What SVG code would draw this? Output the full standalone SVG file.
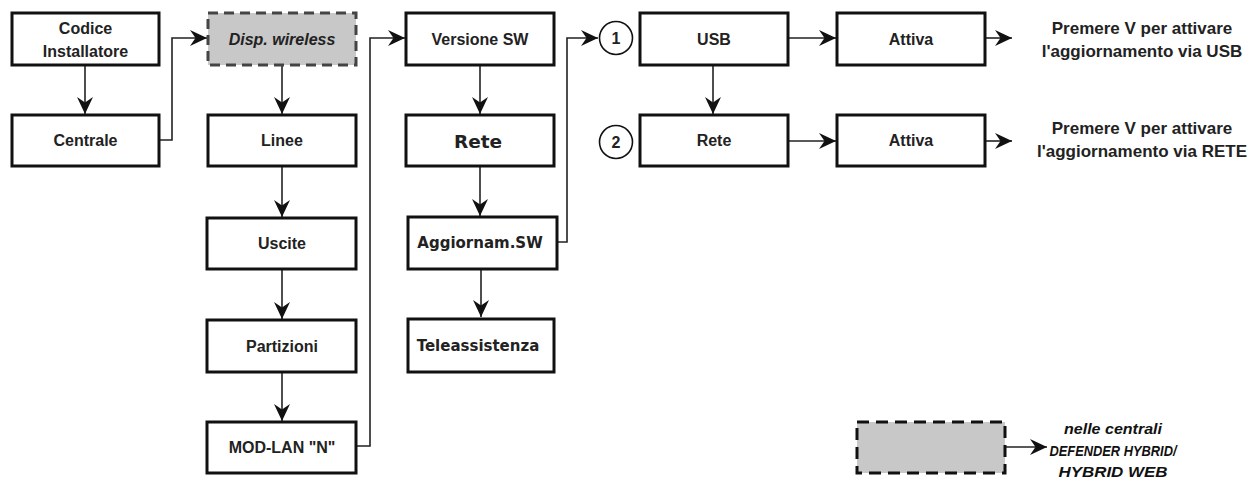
<svg xmlns="http://www.w3.org/2000/svg" width="1252" height="480" viewBox="0 0 1252 480">
<defs>
<marker id="ah" markerUnits="userSpaceOnUse" markerWidth="18" markerHeight="16" refX="17" refY="8" orient="auto">
<path d="M0,0 L17,8 L0,16 L5.5,8 Z" fill="#111"/>
</marker>
<style>
.box{fill:#fff;stroke:#111;stroke-width:3}
.dash{fill:#c8c8c8;stroke:#444;stroke-width:3;stroke-dasharray:10 6}
.ldash{fill:#c8c8c8;stroke:#111;stroke-width:3;stroke-dasharray:12 7}
.t{font-family:"Liberation Sans",Arial,sans-serif;font-weight:bold;font-size:16px;fill:#222;text-anchor:middle}
.m{font-family:"Liberation Sans",Arial,sans-serif;font-weight:bold;font-size:17px;fill:#222;text-anchor:middle}
.v{font-family:"DejaVu Sans",Verdana,sans-serif;font-weight:bold;fill:#222;text-anchor:middle}
.c{fill:none;stroke:#222;stroke-width:1.6;marker-end:url(#ah)}
.circ{fill:#fff;stroke:#111;stroke-width:1.6}
.it{font-family:"Liberation Sans",Arial,sans-serif;font-weight:bold;font-style:italic;font-size:15px;fill:#111;text-anchor:middle}
</style>
</defs>
<rect width="1252" height="480" fill="#fff"/>
<g id="connectors">
<path class="c" d="M85,65 V114"/>
<path class="c" d="M159,140 H172 V38 H207"/>
<path class="c" d="M282,65 V114"/>
<path class="c" d="M282,166 V217"/>
<path class="c" d="M282,269 V319"/>
<path class="c" d="M282,372 V421"/>
<path class="c" d="M357,446 H370 V38 H405"/>
<path class="c" d="M480,65 V114"/>
<path class="c" d="M480,166 V216"/>
<path class="c" d="M481,269 V317"/>
<path class="c" d="M557,242 H567 V38 H598"/>
<path class="c" d="M788,38 H836"/>
<path class="c" d="M713,65 V114"/>
<path class="c" d="M788,141 H836"/>
<path class="c" d="M985,38 H1012"/>
<path class="c" d="M985,141 H1012"/>
<path class="c" d="M1005,447 H1047"/>
</g>
<g id="codice"><rect class="box" x="12" y="13" width="147" height="52"/><text class="t" x="85.5" y="34">Codice</text><text class="t" x="85.5" y="57">Installatore</text></g>
<g id="centrale"><rect class="box" x="12" y="115" width="147" height="51"/><text class="t" x="85.5" y="146">Centrale</text></g>
<g id="disp"><rect class="dash" x="208" y="13" width="148" height="52"/><text class="t" x="282" y="45" style="font-style:italic">Disp. wireless</text></g>
<g id="linee"><rect class="box" x="208" y="115" width="148" height="51"/><text class="t" x="282" y="146">Linee</text></g>
<g id="uscite"><rect class="box" x="207" y="218" width="149" height="51"/><text class="t" x="282" y="249">Uscite</text></g>
<g id="partizioni"><rect class="box" x="207" y="320" width="149" height="52"/><text class="t" x="282" y="352">Partizioni</text></g>
<g id="modlan"><rect class="box" x="207" y="422" width="149" height="51"/><text class="t" x="282" y="453">MOD-LAN "N"</text></g>
<g id="versione"><rect class="box" x="406" y="13" width="148" height="52"/><text class="t" x="480" y="45">Versione SW</text></g>
<g id="rete1"><rect class="box" x="406" y="115" width="148" height="51"/><text class="v" x="478" y="148" font-size="18.5">Rete</text></g>
<g id="aggiornam"><rect class="box" x="408" y="217" width="149" height="52"/><text class="v" x="480" y="248" font-size="15">Aggiornam.SW</text></g>
<g id="teleassistenza"><rect class="box" x="408" y="319" width="146" height="53"/><text class="v" x="478" y="351" font-size="15">Teleassistenza</text></g>
<g id="c1"><circle class="circ" cx="616" cy="38" r="16.5"/><text class="t" x="616" y="44">1</text></g>
<g id="c2"><circle class="circ" cx="616" cy="142" r="16.5"/><text class="t" x="616" y="148">2</text></g>
<g id="usb"><rect class="box" x="640" y="13" width="148" height="52"/><text class="t" x="714" y="45">USB</text></g>
<g id="rete2"><rect class="box" x="640" y="115" width="148" height="51"/><text class="t" x="714" y="146">Rete</text></g>
<g id="attiva1"><rect class="box" x="837" y="13" width="148" height="52"/><text class="t" x="911" y="45">Attiva</text></g>
<g id="attiva2"><rect class="box" x="837" y="115" width="148" height="51"/><text class="t" x="911" y="146">Attiva</text></g>
<g id="msg1"><text class="m" x="1142" y="34">Premere V per attivare</text><text class="m" x="1142" y="57">l'aggiornamento via USB</text></g>
<g id="msg2"><text class="m" x="1142" y="134">Premere V per attivare</text><text class="m" x="1142" y="157">l'aggiornamento via RETE</text></g>
<g id="legend"><rect class="ldash" x="857" y="422" width="148" height="51"/><text class="it" x="1113" y="434" textLength="98" lengthAdjust="spacingAndGlyphs">nelle centrali</text><text class="it" x="1113" y="456" textLength="127" lengthAdjust="spacingAndGlyphs">DEFENDER HYBRID/</text><text class="it" x="1113" y="477" textLength="109" lengthAdjust="spacingAndGlyphs">HYBRID WEB</text></g>
</svg>
